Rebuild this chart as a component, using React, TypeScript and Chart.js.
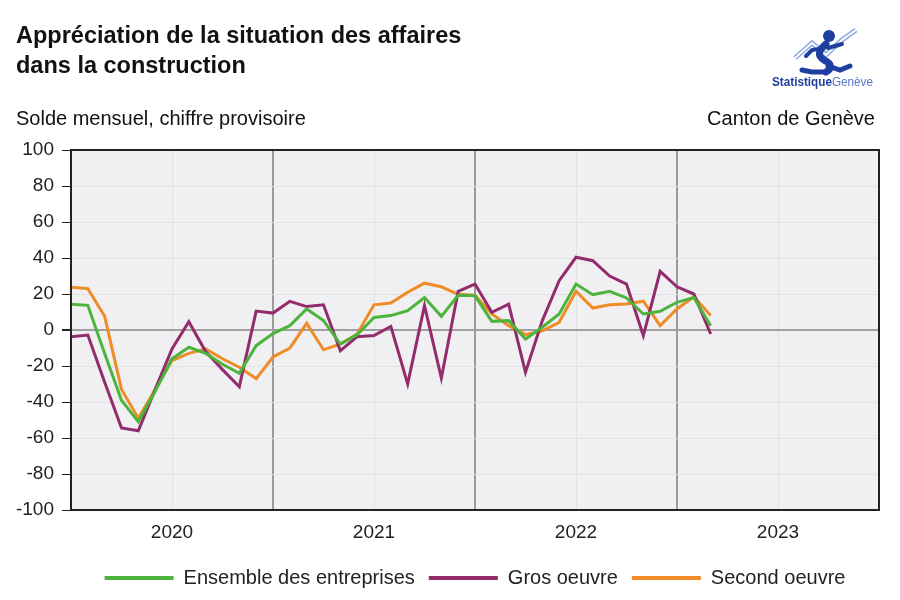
import React, { useEffect, useRef } from 'react';
import { Chart, registerables } from 'chart.js';

Chart.register(...registerables);

// Monthly values, January 2020 to March 2023
const startYear = 2020;
const yearLabels = ['2020', '2021', '2022', '2023'];

const ensemble = [
  14.3, 13.7, -13, -39, -51, -34, -16, -9.6, -13, -19, -24, -8.7,
  -2, 2.4, 11.7, 5.2, -7.8, -2.6, 7, 8, 10.7, 18, 7.6, 19.3,
  19, 4.8, 5.2, -5, 1.5, 8.9, 25.5, 19.6, 21.5, 17.8, 8.9, 10.4,
  15.4, 18.1, 2.4,
];

const grosOeuvre = [
  -3.7, -2.8, -29, -54.4, -56, -33, -10.5, 4.6, -12, -22, -31.5, 10.5,
  9.4, 15.9, 13, 14, -11.5, -3.7, -3.1, 2, -30, 13.5, -26.7, 21.5,
  25.5, 9.8, 14.4, -23.5, 5.2, 27.4, 40.4, 38.5, 30, 25.5, -3.1, 32.6,
  24, 20, -2.2,
];

const secondOeuvre = [
  23.7, 23, 7.6, -33, -49, -33, -17, -13, -10.5, -16, -20.7, -27,
  -15, -10, 3.7, -11, -7.8, -2.2, 14, 15, 21, 26, 24, 19.8,
  19.3, 8.9, 2.4, -2.6, -0.4, 4.3, 21.5, 12.2, 14, 14.4, 16, 2.4,
  11.7, 18.5, 8,
];

const seriesNames = ['Ensemble des entreprises', 'Gros oeuvre', 'Second oeuvre'];
const seriesColors = ['#4cb43c', '#922c6c', '#f08c28'];

const FONT = '"Liberation Sans", Arial, sans-serif';

const frameBg = {
  id: 'frameBg',
  beforeDraw(chart: any) {
    const { ctx, chartArea: a } = chart;
    ctx.save();
    ctx.fillStyle = '#f0f0f2';
    ctx.fillRect(a.left, a.top, a.right - a.left, a.bottom - a.top);
    ctx.restore();
  },
  afterDraw(chart: any) {
    const { ctx, chartArea: a } = chart;
    ctx.save();
    ctx.strokeStyle = '#222';
    ctx.lineWidth = 2;
    ctx.strokeRect(a.left, a.top, a.right - a.left, a.bottom - a.top);
    ctx.restore();
  },
};

function Logo() {
  const zig = '33,36 50,21 64,33 80,18 94,8';
  return (
    <svg width="120" height="75" style={{ position: 'absolute', left: 762, top: 22 }}>
      <polyline points={zig} fill="none" stroke="#8ea8e2" strokeWidth="5" strokeLinejoin="miter" />
      <polyline points={zig} fill="none" stroke="#ffffff" strokeWidth="2" strokeLinejoin="miter" />
      <circle cx="67" cy="14" r="6" fill="#1e3f9f" />
      <path
        d="M64,22 Q52,32 62,38 Q74,44 64,50"
        fill="none"
        stroke="#1e3f9f"
        strokeWidth="7"
        strokeLinecap="round"
      />
      <path
        d="M62,26 L50,28 L44,34"
        fill="none"
        stroke="#1e3f9f"
        strokeWidth="4"
        strokeLinecap="round"
      />
      <path
        d="M66,26 L80,22"
        fill="none"
        stroke="#1e3f9f"
        strokeWidth="4"
        strokeLinecap="round"
      />
      <path
        d="M64,50 L50,50 L40,48"
        fill="none"
        stroke="#1e3f9f"
        strokeWidth="5"
        strokeLinecap="round"
      />
      <path
        d="M66,44 L78,48 L88,44"
        fill="none"
        stroke="#1e3f9f"
        strokeWidth="5"
        strokeLinecap="round"
      />
      <text
        x="10"
        y="64"
        fontFamily={FONT}
        fontSize="12.5"
        fontWeight="bold"
        fill="#1e3f9f"
        textLength="101"
        lengthAdjust="spacingAndGlyphs"
      >
        Statistique
        <tspan fontWeight="normal" fill="#5a78c8">Genève</tspan>
      </text>
    </svg>
  );
}

export default function App() {
  const canvasRef = useRef<HTMLCanvasElement | null>(null);

  useEffect(() => {
    const canvas = canvasRef.current;
    if (!canvas) return;
    const lists = [ensemble, grosOeuvre, secondOeuvre];
    const chart = new Chart(canvas, {
      type: 'line',
      data: {
        datasets: lists.map((vals, k) => ({
          label: seriesNames[k],
          data: vals.map((v, i) => ({ x: i, y: v })),
          borderColor: seriesColors[k],
          backgroundColor: seriesColors[k],
          borderWidth: 3,
          pointRadius: 0,
          tension: 0,
          fill: false,
        })),
      },
      options: {
        responsive: false,
        animation: false,
        layout: { padding: { left: 9, right: 21, top: 150, bottom: 2 } },
        scales: {
          x: {
            type: 'linear',
            min: 0,
            max: 48,
            afterFit: (s: any) => {
              s.height = 44;
            },
            border: { display: false },
            grid: {
              drawTicks: false,
              color: (c: any) => {
                const v = c.tick ? c.tick.value : 0;
                if (v % 12 === 0) return v === 0 || v === 48 ? 'rgba(0,0,0,0)' : '#9a9a9a';
                return '#e2e2e4';
              },
              lineWidth: (c: any) => {
                const v = c.tick ? c.tick.value : 0;
                return v % 12 === 0 ? 2 : 1;
              },
            },
            ticks: {
              stepSize: 6,
              autoSkip: false,
              maxRotation: 0,
              padding: 11,
              color: '#222',
              font: { family: FONT, size: 19 },
              callback: (v: any) => {
                const n = Number(v);
                if (n % 12 !== 6) return '';
                return yearLabels[(n - 6) / 12] ?? String(startYear + (n - 6) / 12);
              },
            },
          },
          y: {
            min: -100,
            max: 100,
            afterFit: (s: any) => {
              s.width = 62;
            },
            border: { display: false },
            grid: {
              drawTicks: true,
              tickLength: 9,
              tickColor: '#222',
              color: (c: any) => (c.tick && c.tick.value === 0 ? '#a0a0a0' : '#e2e2e4'),
              lineWidth: (c: any) => (c.tick && c.tick.value === 0 ? 2 : 1),
            },
            ticks: {
              stepSize: 20,
              padding: 8,
              color: '#222',
              font: { family: FONT, size: 19 },
            },
          },
        },
        plugins: {
          title: { display: false },
          tooltip: { enabled: false },
          legend: {
            display: true,
            position: 'bottom',
            fullSize: false,
            labels: {
              boxWidth: 69,
              boxHeight: 4,
              padding: 14,
              color: '#222',
              font: { family: FONT, size: 20 },
              generateLabels: (ch: any) =>
                Chart.defaults.plugins.legend.labels
                  .generateLabels(ch)
                  .map((it: any) => ({ ...it, lineWidth: 0 })),
            },
          },
        },
      },
      plugins: [frameBg],
    } as any);
    return () => chart.destroy();
  }, []);

  return (
    <div
      style={{
        position: 'fixed',
        left: 0,
        top: 0,
        width: 900,
        height: 600,
        background: '#fff',
        fontFamily: FONT,
        color: '#111',
      }}
    >
      <canvas ref={canvasRef} width={900} height={600} style={{ position: 'absolute', left: 0, top: 0 }} />
      <div
        style={{
          position: 'absolute',
          left: 16,
          top: 20,
          fontSize: 23.5,
          fontWeight: 'bold',
          lineHeight: '30px',
          whiteSpace: 'nowrap',
        }}
      >
        Appréciation de la situation des affaires
        <br />
        dans la construction
      </div>
      <div
        style={{
          position: 'absolute',
          left: 16,
          top: 106,
          fontSize: 20,
          lineHeight: '24px',
          whiteSpace: 'nowrap',
        }}
      >
        Solde mensuel, chiffre provisoire
      </div>
      <div
        style={{
          position: 'absolute',
          right: 25,
          top: 106,
          fontSize: 20,
          lineHeight: '24px',
          textAlign: 'right',
          whiteSpace: 'nowrap',
        }}
      >
        Canton de Genève
      </div>
      <Logo />
    </div>
  );
}
